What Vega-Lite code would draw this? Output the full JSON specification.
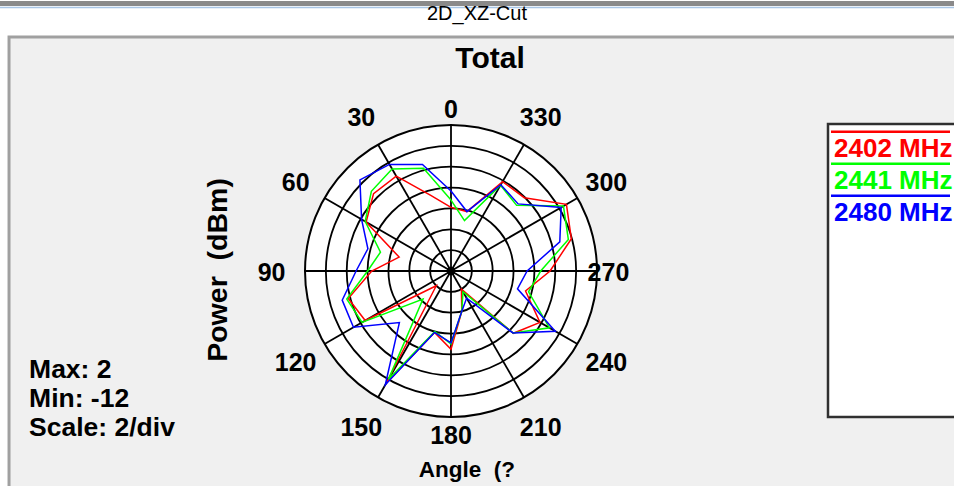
{
  "$schema": "https://vega.github.io/schema/vega-lite/v6.json",
  "width": 300,
  "height": 300,
  "autosize": {"type": "none"},
  "padding": {"left": 301, "top": 121, "right": 353, "bottom": 65},
  "background": "white",
  "config": {"view": {"stroke": null}, "font": "Liberation Sans", "aria": false},
  "datasets": {
    "series": [
      {"f": "2402 MHz", "a": 0, "p": -5.9}, {"f": "2402 MHz", "a": 15, "p": -4.5}, {"f": "2402 MHz", "a": 30, "p": -1.5}, {"f": "2402 MHz", "a": 45, "p": -1.5},
      {"f": "2402 MHz", "a": 60, "p": -2.6}, {"f": "2402 MHz", "a": 75, "p": -6.85}, {"f": "2402 MHz", "a": 90, "p": -4.4}, {"f": "2402 MHz", "a": 105, "p": -1.8},
      {"f": "2402 MHz", "a": 120, "p": -2.5}, {"f": "2402 MHz", "a": 135, "p": -10.0}, {"f": "2402 MHz", "a": 150, "p": 0.4}, {"f": "2402 MHz", "a": 165, "p": -5.9},
      {"f": "2402 MHz", "a": 180, "p": -4.5}, {"f": "2402 MHz", "a": 195, "p": -8.0}, {"f": "2402 MHz", "a": 210, "p": -10.0}, {"f": "2402 MHz", "a": 225, "p": -3.55},
      {"f": "2402 MHz", "a": 240, "p": -2.15}, {"f": "2402 MHz", "a": 255, "p": -4.6}, {"f": "2402 MHz", "a": 270, "p": -2.5}, {"f": "2402 MHz", "a": 285, "p": -0.05},
      {"f": "2402 MHz", "a": 300, "p": 0.78}, {"f": "2402 MHz", "a": 315, "p": -2.06}, {"f": "2402 MHz", "a": 330, "p": -2.1}, {"f": "2402 MHz", "a": 345, "p": -6.1},
      {"f": "2402 MHz", "a": 360, "p": -5.9},
      {"f": "2441 MHz", "a": 0, "p": -5.2}, {"f": "2441 MHz", "a": 15, "p": -1.8}, {"f": "2441 MHz", "a": 30, "p": -0.7}, {"f": "2441 MHz", "a": 45, "p": -1.2},
      {"f": "2441 MHz", "a": 60, "p": -2.5}, {"f": "2441 MHz", "a": 75, "p": -5.0}, {"f": "2441 MHz", "a": 90, "p": -4.0}, {"f": "2441 MHz", "a": 105, "p": -1.65},
      {"f": "2441 MHz", "a": 120, "p": -2.15}, {"f": "2441 MHz", "a": 135, "p": -8.2}, {"f": "2441 MHz", "a": 150, "p": 0.0}, {"f": "2441 MHz", "a": 165, "p": -6.0},
      {"f": "2441 MHz", "a": 180, "p": -5.0}, {"f": "2441 MHz", "a": 195, "p": -8.0}, {"f": "2441 MHz", "a": 210, "p": -9.7}, {"f": "2441 MHz", "a": 225, "p": -3.6},
      {"f": "2441 MHz", "a": 240, "p": -1.1}, {"f": "2441 MHz", "a": 255, "p": -4.3}, {"f": "2441 MHz", "a": 270, "p": -3.4}, {"f": "2441 MHz", "a": 285, "p": -0.35},
      {"f": "2441 MHz", "a": 300, "p": 0.45}, {"f": "2441 MHz", "a": 315, "p": -3.1}, {"f": "2441 MHz", "a": 330, "p": -2.5}, {"f": "2441 MHz", "a": 345, "p": -7.0},
      {"f": "2441 MHz", "a": 360, "p": -5.2},
      {"f": "2480 MHz", "a": 0, "p": -4.33}, {"f": "2480 MHz", "a": 15, "p": -1.42}, {"f": "2480 MHz", "a": 30, "p": -0.2}, {"f": "2480 MHz", "a": 45, "p": 0.35},
      {"f": "2480 MHz", "a": 60, "p": -2.1}, {"f": "2480 MHz", "a": 75, "p": -3.75}, {"f": "2480 MHz", "a": 90, "p": -2.9}, {"f": "2480 MHz", "a": 105, "p": -1.2},
      {"f": "2480 MHz", "a": 120, "p": -1.2}, {"f": "2480 MHz", "a": 135, "p": -5.0}, {"f": "2480 MHz", "a": 150, "p": 0.6}, {"f": "2480 MHz", "a": 165, "p": -5.9},
      {"f": "2480 MHz", "a": 180, "p": -5.1}, {"f": "2480 MHz", "a": 195, "p": -8.0}, {"f": "2480 MHz", "a": 210, "p": -9.0}, {"f": "2480 MHz", "a": 225, "p": -3.6},
      {"f": "2480 MHz", "a": 240, "p": -0.45}, {"f": "2480 MHz", "a": 255, "p": -5.4}, {"f": "2480 MHz", "a": 270, "p": -4.7}, {"f": "2480 MHz", "a": 285, "p": -1.2},
      {"f": "2480 MHz", "a": 300, "p": 0.2}, {"f": "2480 MHz", "a": 315, "p": -2.9}, {"f": "2480 MHz", "a": 330, "p": -2.45}, {"f": "2480 MHz", "a": 345, "p": -6.1},
      {"f": "2480 MHz", "a": 360, "p": -4.33}
    ],
    "angles": [
      {"a": 0}, {"a": 30}, {"a": 60}, {"a": 90}, {"a": 120}, {"a": 150},
      {"a": 180}, {"a": 210}, {"a": 240}, {"a": 270}, {"a": 300}, {"a": 330}
    ],
    "rings": [{"r": 2}, {"r": 4}, {"r": 6}, {"r": 8}, {"r": 10}, {"r": 12}],
    "outer": [{"r": 14}],
    "stats": [{"t": "Max: 2\nMin: -12\nScale: 2/div"}],
    "heading": [{"t": "2D_XZ-Cut"}],
    "plotTitle": [{"t": "Total"}],
    "yTitle": [{"t": "Power \u00a0(dBm)"}],
    "xTitle": [{"t": "Angle \u00a0(?"}]
  },
  "layer": [
    {
      "data": {"values": [{}]},
      "mark": {"type": "rect", "fill": "#f0f0f0", "stroke": "#a0a0a0", "strokeWidth": 3},
      "encoding": {
        "x": {"datum": -42.38, "type": "quantitative", "scale": {"domain": [-14.3833, 14.3833], "nice": false, "zero": false}, "axis": null},
        "x2": {"datum": 49},
        "y": {"datum": 22.44, "type": "quantitative", "scale": {"domain": [-14.3833, 14.3833], "nice": false, "zero": false}, "axis": null},
        "y2": {"datum": -21.5}
      }
    },
    {
      "data": {"values": [{}]},
      "mark": {"type": "rule", "stroke": "#8a8a8a", "strokeWidth": 5},
      "encoding": {
        "x": {"datum": -43.5, "type": "quantitative", "axis": null},
        "x2": {"datum": 48.5},
        "y": {"datum": 25.65, "type": "quantitative", "axis": null}
      }
    },
    {
      "data": {"values": [{}]},
      "mark": {"type": "rule", "stroke": "#a9c6e6", "strokeWidth": 1.5},
      "encoding": {
        "x": {"datum": -43.5, "type": "quantitative", "axis": null},
        "x2": {"datum": 48.5},
        "y": {"datum": 25.27, "type": "quantitative", "axis": null}
      }
    },
    {
      "data": {"name": "heading"},
      "mark": {"type": "text", "font": "Liberation Sans", "fontSize": 20, "fontWeight": "normal", "color": "black", "align": "center", "baseline": "middle"},
      "encoding": {
        "x": {"datum": 2.49, "type": "quantitative", "axis": null},
        "y": {"datum": 24.6, "type": "quantitative", "axis": null},
        "text": {"field": "t", "type": "nominal"}
      }
    },
    {
      "data": {"name": "plotTitle"},
      "mark": {"type": "text", "font": "Liberation Sans", "fontSize": 30, "fontWeight": "bold", "color": "black", "align": "center", "baseline": "middle"},
      "encoding": {
        "x": {"datum": 3.74, "type": "quantitative", "axis": null},
        "y": {"datum": 20.3, "type": "quantitative", "axis": null},
        "text": {"field": "t", "type": "nominal"}
      }
    },
    {
      "data": {"name": "yTitle"},
      "mark": {"type": "text", "font": "Liberation Sans", "fontSize": 28.5, "fontWeight": "bold", "color": "black", "align": "center", "baseline": "middle", "angle": 270},
      "encoding": {
        "x": {"datum": -22.34, "type": "quantitative", "axis": null},
        "y": {"datum": 0.1, "type": "quantitative", "axis": null},
        "text": {"field": "t", "type": "nominal"}
      }
    },
    {
      "data": {"name": "xTitle"},
      "mark": {"type": "text", "font": "Liberation Sans", "fontSize": 22.5, "fontWeight": "bold", "color": "black", "align": "center", "baseline": "middle"},
      "encoding": {
        "x": {"datum": 1.53, "type": "quantitative", "axis": null},
        "y": {"datum": -19.08, "type": "quantitative", "axis": null},
        "text": {"field": "t", "type": "nominal"}
      }
    },
    {
      "data": {"values": [{}]},
      "mark": {"type": "rect", "fill": "white", "stroke": "#303030", "strokeWidth": 2.5},
      "encoding": {
        "x": {"datum": 36.15, "type": "quantitative", "axis": null},
        "x2": {"datum": 49},
        "y": {"datum": 14.09, "type": "quantitative", "axis": null},
        "y2": {"datum": -14.0}
      }
    },
    {
      "data": {"name": "outer"},
      "mark": {"type": "point", "shape": "circle", "filled": true, "fill": "white", "stroke": "black", "strokeWidth": 2, "opacity": 1},
      "encoding": {
        "x": {"datum": 0, "type": "quantitative", "axis": null},
        "y": {"datum": 0, "type": "quantitative", "axis": null},
        "size": {"field": "r", "type": "quantitative", "scale": {"type": "pow", "exponent": 2, "domain": [0, 14], "range": [0, 85264], "zero": true}, "legend": null}
      }
    },
    {
      "data": {"name": "rings"},
      "mark": {"type": "point", "shape": "circle", "filled": false, "stroke": "black", "strokeWidth": 1.8, "opacity": 1},
      "encoding": {
        "x": {"datum": 0, "type": "quantitative", "axis": null},
        "y": {"datum": 0, "type": "quantitative", "axis": null},
        "size": {"field": "r", "type": "quantitative", "legend": null}
      }
    },
    {
      "data": {"name": "angles"},
      "transform": [
        {"calculate": "-14 * sin(datum.a * PI / 180)", "as": "ex"},
        {"calculate": "14 * cos(datum.a * PI / 180)", "as": "ey"},
        {"calculate": "0", "as": "ox"}
      ],
      "mark": {"type": "rule", "stroke": "black", "strokeWidth": 1.8},
      "encoding": {
        "x": {"field": "ox", "type": "quantitative", "axis": null},
        "y": {"field": "ox", "type": "quantitative", "axis": null},
        "x2": {"field": "ex"},
        "y2": {"field": "ey"}
      }
    },
    {
      "data": {"name": "series"},
      "transform": [
        {"calculate": "-(datum.p + 12) * sin(datum.a * PI / 180)", "as": "x"},
        {"calculate": "(datum.p + 12) * cos(datum.a * PI / 180)", "as": "y"}
      ],
      "mark": {"type": "line", "strokeWidth": 1.5},
      "encoding": {
        "x": {"field": "x", "type": "quantitative", "axis": null},
        "y": {"field": "y", "type": "quantitative", "axis": null},
        "order": {"field": "a", "type": "quantitative"},
        "color": {
          "field": "f",
          "type": "nominal",
          "scale": {"domain": ["2402 MHz", "2441 MHz", "2480 MHz"], "range": ["#ff0000", "#00ff00", "#0000ff"]},
          "legend": {
            "title": null,
            "orient": "none",
            "legendX": 522,
            "legendY": 14.75,
            "padding": 0,
            "zindex": 2,
            "symbolType": "M-1,-3.4H22.8",
            "symbolSize": 100,
            "symbolStrokeWidth": 2.5,
            "labelFont": "Liberation Sans",
            "labelFontSize": 26,
            "labelFontWeight": "bold",
            "labelOffset": -15,
            "rowPadding": -3,
            "encoding": {
              "labels": {"fill": {"value": {"expr": "scale('color', datum.value)"}}}
            }
          }
        }
      }
    },
    {
      "data": {"values": [{}]},
      "mark": {"type": "point", "shape": "circle", "filled": true, "color": "black", "size": 70, "opacity": 1},
      "encoding": {
        "x": {"datum": 0, "type": "quantitative", "axis": null},
        "y": {"datum": 0, "type": "quantitative", "axis": null}
      }
    },
    {
      "data": {"name": "angles"},
      "transform": [
        {"calculate": "datum.a % 180 == 0 ? 15.6 : (datum.a == 270 ? 15.1 : 17.2)", "as": "lr"},
        {"calculate": "-datum.lr * sin(datum.a * PI / 180)", "as": "lx"},
        {"calculate": "datum.lr * cos(datum.a * PI / 180)", "as": "ly"},
        {"calculate": "toString(datum.a)", "as": "lab"}
      ],
      "mark": {"type": "text", "font": "Liberation Sans", "fontSize": 25, "fontWeight": "bold", "color": "black", "align": "center", "baseline": "middle", "dy": 2},
      "encoding": {
        "x": {"field": "lx", "type": "quantitative", "axis": null},
        "y": {"field": "ly", "type": "quantitative", "axis": null},
        "text": {"field": "lab", "type": "nominal"}
      }
    },
    {
      "data": {"name": "stats"},
      "mark": {"type": "text", "font": "Liberation Sans", "fontSize": 26.5, "fontWeight": "bold", "color": "black", "align": "left", "baseline": "middle", "lineBreak": "\n", "lineHeight": 29},
      "encoding": {
        "x": {"datum": -40.46, "type": "quantitative", "axis": null},
        "y": {"datum": -9.49, "type": "quantitative", "axis": null},
        "text": {"field": "t", "type": "nominal"}
      }
    }
  ]
}
